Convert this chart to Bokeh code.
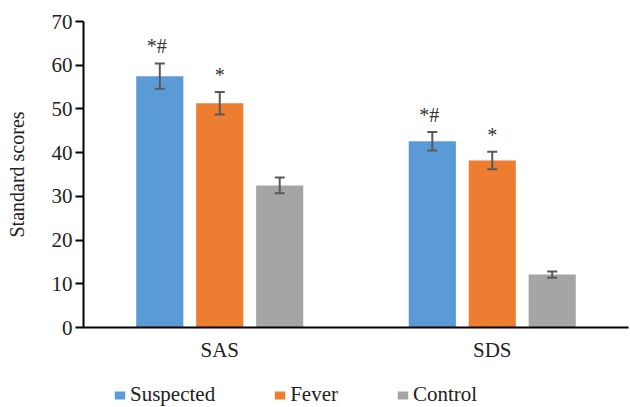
from bokeh.plotting import figure
from bokeh.layouts import column
from bokeh.models import (ColumnDataSource, FactorRange, Range1d, FixedTicker, Whisker,
                          TeeHead, LabelSet, Legend, LegendItem)
from bokeh.transform import dodge
from bokeh.embed import file_html
from bokeh.resources import INLINE

categories = ["SAS", "SDS"]
series_names = ["Suspected", "Fever", "Control"]
suspected = [57.5, 42.6]
fever = [51.3, 38.2]
control = [32.5, 12.1]
suspected_err = [2.9, 2.1]
fever_err = [2.6, 2.0]
control_err = [1.8, 0.7]
suspected_sig = ["*#", "*#"]
fever_sig = ["*", "*"]
control_sig = ["", ""]
y_ticks = [0, 10, 20, 30, 40, 50, 60, 70]

colors = ["#5B9BD5", "#ED7D31", "#A5A5A5"]
offsets = [-0.22, 0.0, 0.22]
FONT = "Liberation Serif"

p = figure(width=630, height=364, x_range=FactorRange(factors=categories, range_padding=0),
           y_range=Range1d(0, 70), output_backend="svg", toolbar_location=None,
           min_border_left=83, min_border_right=2, min_border_top=21, min_border_bottom=37)
p.outline_line_color = None
p.xgrid.grid_line_color = None
p.ygrid.grid_line_color = None

values = [suspected, fever, control]
errs = [suspected_err, fever_err, control_err]
sigs = [suspected_sig, fever_sig, control_sig]
for name, vals, err, sig, col, off in zip(series_names, values, errs, sigs, colors, offsets):
    src = ColumnDataSource(dict(cat=categories, val=vals,
                                upper=[v + e for v, e in zip(vals, err)],
                                lower=[v - e for v, e in zip(vals, err)],
                                sig=sig))
    p.vbar(x=dodge("cat", off, range=p.x_range), top="val", width=0.173, source=src,
           fill_color=col, line_color=None)
    w = Whisker(base=dodge("cat", off, range=p.x_range), upper="upper", lower="lower", source=src,
                line_color="#595959", line_width=2, level="overlay",
                upper_head=TeeHead(size=10, line_color="#595959", line_width=2),
                lower_head=TeeHead(size=10, line_color="#595959", line_width=2))
    p.add_layout(w)
    lab = LabelSet(x=dodge("cat", off - 0.011 if name == "Suspected" else off, range=p.x_range),
                   y="upper", text="sig", source=src, text_align="center",
                   text_baseline="alphabetic", y_offset=10, text_font=FONT,
                   text_font_size="20px", text_color="#333333")
    p.add_layout(lab)

# axes
p.yaxis.ticker = FixedTicker(ticks=y_ticks)
p.yaxis.axis_label = "Standard scores"
for ax in (p.xaxis[0], p.yaxis[0]):
    ax.axis_line_color = "black"
    ax.axis_line_width = 2
    ax.major_label_text_font = FONT
    ax.major_label_text_font_size = "21px"
    ax.major_label_text_color = "#222222"
    ax.minor_tick_line_color = None
p.yaxis.major_tick_in = 0
p.yaxis.major_tick_out = 8
p.yaxis.major_tick_line_width = 2
p.yaxis.major_tick_line_color = "black"
p.yaxis.major_label_standoff = 3
p.yaxis.axis_label_text_font = FONT
p.yaxis.axis_label_text_font_size = "20px"
p.yaxis.axis_label_text_font_style = "normal"
p.yaxis.axis_label_text_color = "#222222"
p.yaxis.axis_label_standoff = 21
p.xaxis.major_tick_line_color = None
p.xaxis.major_tick_out = 0
p.xaxis.major_label_standoff = 10

# legend strip below the chart
pl = figure(width=630, height=43, x_range=Range1d(0, 1), y_range=Range1d(0, 1),
            output_backend="svg", toolbar_location=None, x_axis_type=None, y_axis_type=None,
            min_border_left=83, min_border_right=2, min_border_top=0, min_border_bottom=0)
pl.outline_line_color = None
pl.xgrid.grid_line_color = None
pl.ygrid.grid_line_color = None
# zero-height swatch renderers (only used to draw the legend keys)
leg_renderers = [pl.vbar(x=[0.5], top=[0], bottom=[0], width=0.01, fill_color=c, line_color=None)
                 for c in colors]
legend = Legend(items=[LegendItem(label=n, renderers=[r]) for n, r in zip(series_names, leg_renderers)],
                orientation="horizontal", location=(30, 0), padding=0, margin=0,
                spacing=58, glyph_width=13, glyph_height=10, label_standoff=4,
                label_text_font=FONT, label_text_font_size="21px", label_text_color="#222222",
                border_line_color=None, background_fill_alpha=0)
pl.add_layout(legend, "center")

layout = column(p, pl, spacing=0)
open("out.html", "w").write(file_html(layout, INLINE))
